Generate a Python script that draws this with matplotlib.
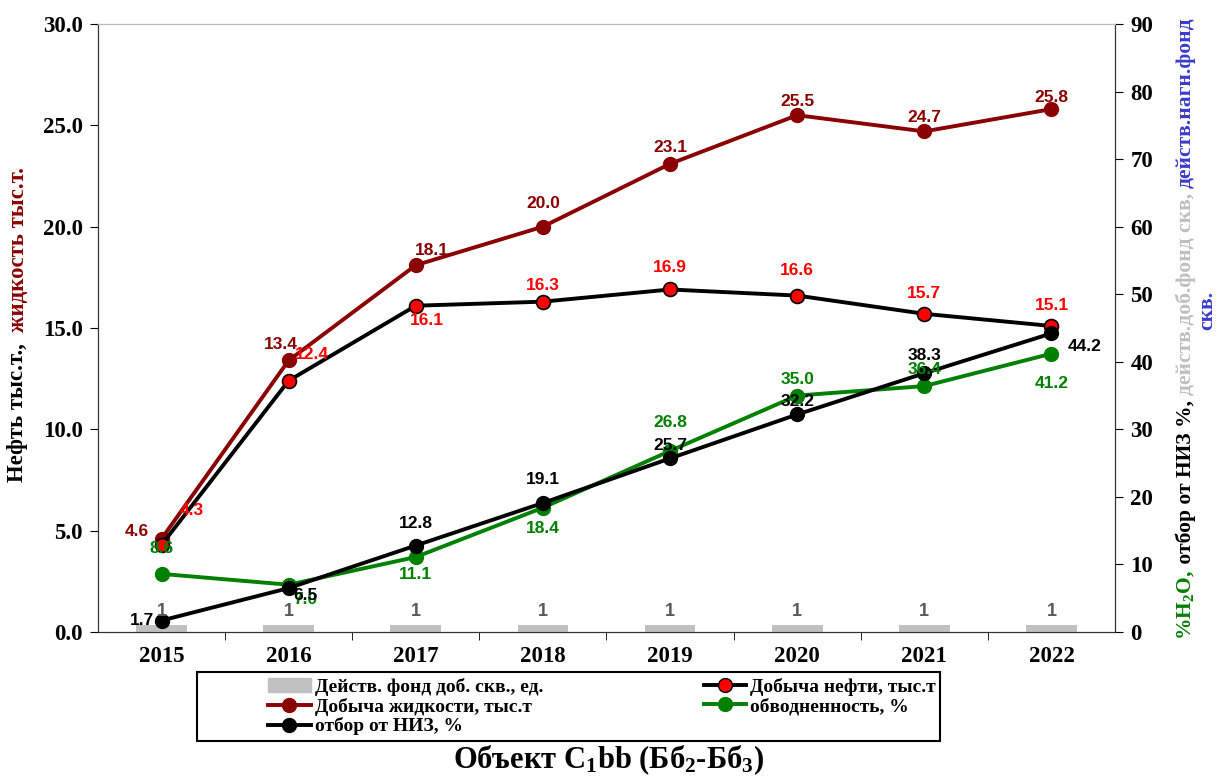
import matplotlib
matplotlib.use("Agg")
import matplotlib.pyplot as plt
from matplotlib.patches import Patch, Rectangle
from matplotlib.lines import Line2D
import numpy as np

years = ["2015", "2016", "2017", "2018", "2019", "2020", "2021", "2022"]
liquid = [4.6, 13.4, 18.1, 20.0, 23.1, 25.5, 24.7, 25.8]   # добыча жидкости, тыс.т
oil = [4.3, 12.4, 16.1, 16.3, 16.9, 16.6, 15.7, 15.1]      # добыча нефти, тыс.т
water = [8.6, 7.0, 11.1, 18.4, 26.8, 35.0, 36.4, 41.2]     # обводненность, %
niz = [1.7, 6.5, 12.8, 19.1, 25.7, 32.2, 38.3, 44.2]       # отбор от НИЗ, %
wells = [1, 1, 1, 1, 1, 1, 1, 1]                           # действ. фонд доб. скв.

DRED = "#8B0000"
GREEN = "#008000"
SERIF = ["Liberation Serif", "DejaVu Serif"]
SANS = ["Liberation Sans", "DejaVu Sans"]

plt.rcParams["mathtext.fontset"] = "custom"
plt.rcParams["mathtext.rm"] = "Liberation Serif:bold"
plt.rcParams["mathtext.it"] = "Liberation Serif:bold"
plt.rcParams["mathtext.bf"] = "Liberation Serif:bold"

fig = plt.figure(figsize=(12.17, 7.79), dpi=100)
ax = fig.add_axes([0.0805, 0.1887, 0.8357, 0.7805])
ax2 = ax.twinx()
x = np.arange(len(years))

# bars + lines
ax2.bar(x, wells, width=0.4, color="#C0C0C0", zorder=1)
ax.plot(x, liquid, color=DRED, lw=2.8, marker="o", ms=10, mfc=DRED, mec=DRED, zorder=3)
ax.plot(x, oil, color="black", lw=2.8, marker="o", ms=10, mfc="red", mec="black", mew=1.2, zorder=4)
ax2.plot(x, water, color=GREEN, lw=2.8, marker="o", ms=10, mfc=GREEN, mec=GREEN, zorder=3)
ax2.plot(x, niz, color="black", lw=2.8, marker="o", ms=10, mfc="black", mec="black", zorder=4)

ax.set_xlim(-0.5, 7.5)
ax.set_ylim(0, 30)
ax2.set_ylim(0, 90)
ax.set_yticks(np.arange(0, 31, 5))
ax.set_yticklabels([f"{v:.1f}" for v in np.arange(0, 31, 5)])
ax2.set_yticks(np.arange(0, 91, 10))
ax.set_xticks(x)
ax.set_xticklabels(years)
ax.set_xticks(np.arange(0.5, 7.5, 1), minor=True)
ax.tick_params(axis="x", which="major", length=0, pad=10)
ax.tick_params(axis="x", which="minor", length=6, direction="out")
ax.tick_params(axis="y", length=6, direction="out", pad=5)
ax2.tick_params(axis="y", length=6, direction="out", pad=5)
for lab in ax.get_xticklabels() + ax.get_yticklabels() + ax2.get_yticklabels():
    lab.set_family(SERIF)
    lab.set_fontweight("bold")
    lab.set_fontsize(16.5)
for a in (ax, ax2):
    a.spines["top"].set_color("#BBBBBB")
    a.spines["left"].set_color("#333333")
    a.spines["right"].set_color("#333333")
    a.spines["bottom"].set_color("#333333")

def lab(axis, xs, ys, vals, color, offs, fmt="{:.1f}", size=12.5):
    for xi, yi, v, o in zip(xs, ys, vals, offs):
        axis.annotate(fmt.format(v), (xi, yi), xytext=o, textcoords="offset pixels",
                      ha="center", va="center", color=color, fontsize=size,
                      fontweight="bold", family=SANS, zorder=6)

lab(ax, x, liquid, liquid, DRED,
    [(-25, 7), (-8, 16), (16, 15), (0, 23), (0, 16), (0, 14), (0, 14), (0, 12)])
lab(ax, x, oil, oil, "red",
    [(30, 34), (23, 26), (11, -15), (0, 16), (0, 22), (0, 25), (0, 20), (0, 20)])
lab(ax2, x, water, water, GREEN,
    [(0, 25), (17, -15), (0, -17), (0, -21), (0, 28), (0, 16), (0, 17), (0, -30)])
lab(ax2, x, niz, niz, "black",
    [(-20, 0), (17, -7), (0, 22), (0, 23), (0, 13), (0, 13), (0, 18), (33, -13)])
lab(ax2, x, wells, wells, "#595959", [(0, 14)] * 8, fmt="{:d}", size=13)

# multicolour rotated axis titles
fig.canvas.draw()
rend = fig.canvas.get_renderer()

def vtext(px, py, pieces, size=15.5):
    y = py
    for s, c in pieces:
        t = fig.text(px / 1217, 1 - y / 779, s, rotation=90, rotation_mode="anchor",
                     ha="left", va="center", color=c, fontsize=size,
                     fontweight="bold", family=SERIF)
        bb = t.get_window_extent(renderer=rend)
        y -= bb.height

vtext(18, 482, [("Нефть тыс.т.,  ", "black"), ("жидкость тыс.т.", DRED)], size=16.5)
vtext(1186, 640, [("%H$_2$O, ", GREEN), (" отбор от НИЗ %, ", "black"),
                  ("действ.доб.фонд скв, ", "#BFBFBF"), ("действ.нагн.фонд", "#3A3ACF")])
vtext(1207, 330, [("скв.", "#3A3ACF")])

# legend
handles = [
    Patch(color="#C0C0C0"),
    Line2D([], [], color=DRED, lw=2.8, marker="o", ms=10, mfc=DRED, mec=DRED),
    Line2D([], [], color="black", lw=2.8, marker="o", ms=10, mfc="black"),
    Line2D([], [], color="black", lw=2.8, marker="o", ms=10, mfc="red", mec="black"),
    Line2D([], [], color=GREEN, lw=2.8, marker="o", ms=10, mfc=GREEN, mec=GREEN),
]
labels = ["Действ. фонд доб. скв., ед.", "Добыча жидкости, тыс.т", "отбор от НИЗ, %",
          "Добыча нефти, тыс.т", "обводненность, %"]
fig.patches.append(Rectangle((197 / 1217, 1 - 741 / 779), 743 / 1217, 69 / 779,
                             transform=fig.transFigure, fill=False,
                             edgecolor="black", lw=1.5))
fig.legend(handles, labels, ncol=2, loc="center left",
           bbox_to_anchor=(268 / 1217, 1 - 741 / 779, 668 / 1217, 69 / 779), mode="expand",
           prop={"family": SERIF, "weight": "bold", "size": 14},
           frameon=False, handlelength=2.2, handletextpad=0.2, labelspacing=0.1,
           borderpad=0.0, borderaxespad=0.0, columnspacing=1.0)

fig.text(0.5, 1 - 760 / 779, "Объект C$_1$bb (Бб$_2$-Бб$_3$)", ha="center", va="center",
         fontsize=22, fontweight="bold", family=SERIF)

fig.savefig("out.png", dpi=100)
